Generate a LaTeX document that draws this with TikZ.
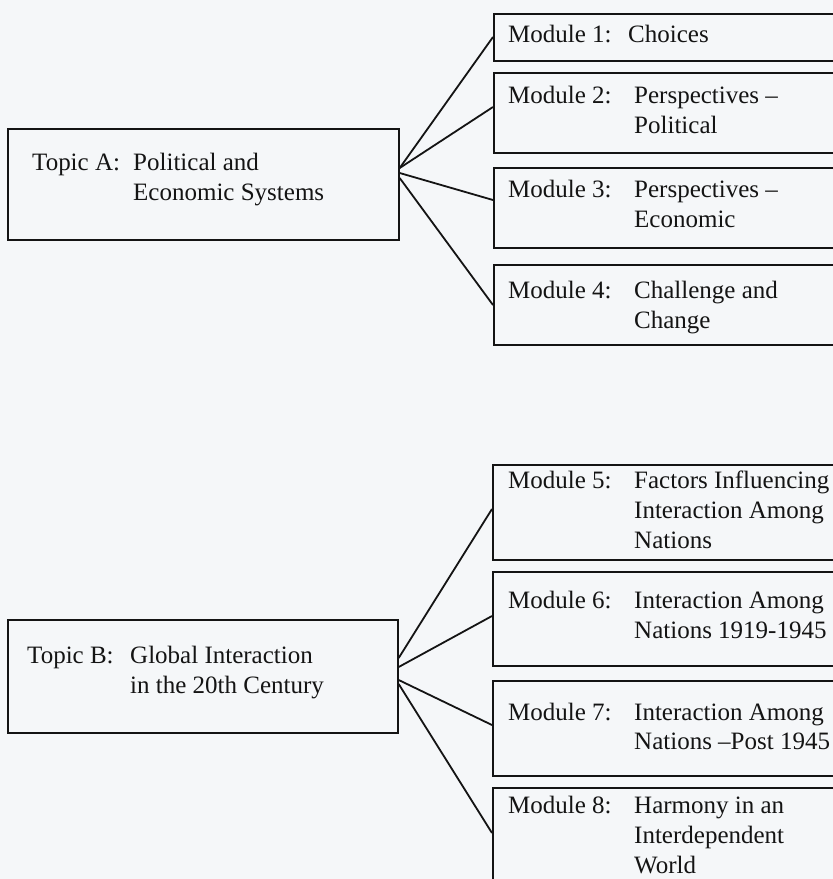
\documentclass[tikz,border=0pt]{standalone}
\usepackage{fontspec}
\setmainfont{Liberation Serif}
\usetikzlibrary{calc}
\definecolor{paper}{RGB}{245,247,249}
\definecolor{ink}{RGB}{20,20,20}
\begin{document}
\begin{tikzpicture}[x=1pt,y=-1pt,
  box/.style={draw=ink, line width=1.7pt, anchor=north west, inner sep=0pt, minimum width=#1},
  box/.default=360pt,
  txt/.style={anchor=base west, inner sep=0pt, text=ink, font=\fontsize{25}{30}\selectfont},
  link/.style={draw=ink, line width=1.8pt}]
\useasboundingbox (0,0) rectangle (833,879);
\fill[paper] (0,0) rectangle (833,879);
\clip (0,0) rectangle (833,879);

% topic boxes
\node[box=391pt, minimum height=111pt] (ta) at (7,128) {};
\node[box=390pt, minimum height=113pt] (tb) at (7,619) {};

% module boxes (open to the right)
\node[box, minimum height=47pt] (m1) at (493,13) {};
\node[box, minimum height=80pt] (m2) at (493,72) {};
\node[box, minimum height=80pt] (m3) at (493,167) {};
\node[box, minimum height=80pt] (m4) at (493,264) {};
\node[box, minimum height=95pt] (m5) at (492,464) {};
\node[box, minimum height=94pt] (m6) at (492,571) {};
\node[box, minimum height=95pt] (m7) at (492,680) {};
\node[box, minimum height=120pt] (m8) at (492,787) {};

% connectors
\draw[link] ($(ta.north east)+(0,40)$) -- ($(m1.north west)+(0,24)$);
\draw[link] ($(ta.north east)+(0,40)$) -- ($(m2.north west)+(0,35)$);
\draw[link] ($(ta.north east)+(0,45)$) -- ($(m3.north west)+(0,33)$);
\draw[link] ($(ta.north east)+(0,50)$) -- ($(m4.north west)+(0,41)$);
\draw[link] ($(tb.north east)+(0,39)$) -- ($(m5.north west)+(0,45)$);
\draw[link] ($(tb.north east)+(0,48)$) -- ($(m6.north west)+(0,45)$);
\draw[link] ($(tb.north east)+(0,61)$) -- ($(m7.north west)+(0,45)$);
\draw[link] ($(tb.north east)+(0,65)$) -- ($(m8.north west)+(0,46)$);

% topic texts
\node[txt] (taL) at (32,170) {Topic A:};
\node[txt] (taT1) at (133,170) {Political and};
\node[txt] (taT2) at (133,200) {Economic Systems};
\node[txt] (tbL) at (27,663) {Topic B:};
\node[txt] (tbT1) at (130,663) {Global Interaction};
\node[txt] (tbT2) at (130,693) {in the 20th Century};

% module texts
\node[txt] (m1L) at (508,42) {Module 1:};
\node[txt] (m1T1) at (628,42) {Choices};
\node[txt] (m2L) at (508,103) {Module 2:};
\node[txt] (m2T1) at (634,103) {Perspectives –};
\node[txt] (m2T2) at (634,133) {Political};
\node[txt] (m3L) at (508,197) {Module 3:};
\node[txt] (m3T1) at (634,197) {Perspectives –};
\node[txt] (m3T2) at (634,227) {Economic};
\node[txt] (m4L) at (508,298) {Module 4:};
\node[txt] (m4T1) at (634,298) {Challenge and};
\node[txt] (m4T2) at (634,328) {Change};
\node[txt] (m5L) at (508,488) {Module 5:};
\node[txt] (m5T1) at (634,488) {Factors Influencing};
\node[txt] (m5T2) at (634,518) {Interaction Among};
\node[txt] (m5T3) at (634,548) {Nations};
\node[txt] (m6L) at (508,608) {Module 6:};
\node[txt] (m6T1) at (634,608) {Interaction Among};
\node[txt] (m6T2) at (634,638) {Nations 1919-1945};
\node[txt] (m7L) at (508,720) {Module 7:};
\node[txt] (m7T1) at (634,720) {Interaction Among};
\node[txt] (m7T2) at (634,749) {Nations –Post 1945};
\node[txt] (m8L) at (508,813) {Module 8:};
\node[txt] (m8T1) at (634,813) {Harmony in an};
\node[txt] (m8T2) at (634,843) {Interdependent};
\node[txt] (m8T3) at (634,873) {World};
\end{tikzpicture}
\end{document}
